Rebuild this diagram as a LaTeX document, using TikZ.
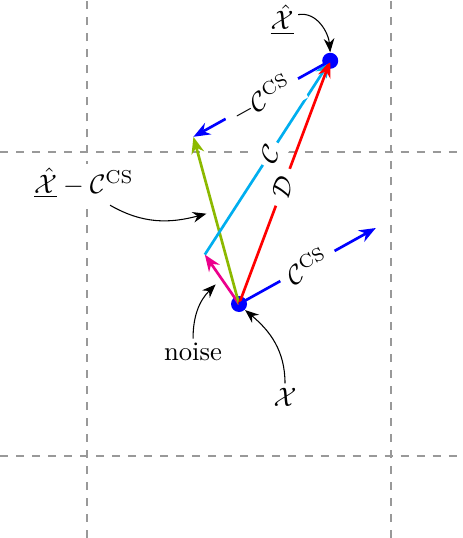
\documentclass[tikz,border=0pt]{standalone}
\usepackage{amsmath}
\usetikzlibrary{arrows.meta}
\definecolor{veccyan}{RGB}{0,174,239}
\definecolor{vecgreen}{RGB}{140,185,0}
\definecolor{vecpink}{RGB}{236,0,140}
\tikzset{
  gridln/.style ={dashed, gray!80, thin},
  vec/.style    ={-{Stealth[length=2.2mm, width=1.7mm]}, line width=1pt},
  dot/.style    ={circle, fill=blue, inner sep=0pt, minimum size=6pt},
  lbl/.style    ={fill=white, inner sep=1.5pt},
  onvec/.style  ={fill=white, text=black, sloped},
  annot/.style  ={-{Stealth[length=1.8mm, width=1.4mm]}, thin, black},
}

\begin{document}
\begin{tikzpicture}
  \useasboundingbox (-1.145,-1.079) rectangle (4.934,6.0);
  \draw[gridln, step=4cm] (-1.145,-1.079) grid (4.934,6.0);

  \coordinate (x)      at (2,2);
  \coordinate (xhat)   at (3.2,5.2);
  \coordinate (ccs)    at (3.8,3.0);
  \coordinate (diff)   at (1.4,4.2);
  \coordinate (noisy)  at (1.55,2.65);

  \node[dot] (xdot)    at (x) {};
  \node[dot] (xhatdot) at (xhat) {};

  % vectors
  \draw[vec, vecpink]  (x) -- (noisy) coordinate[pos=0.45] (pmid);
  \draw[vec, vecgreen] (x) -- (diff) coordinate[pos=0.54] (gmid);
  \draw[vec, veccyan]  (noisy) -- (xhat);
  \draw[vec, red]      (x) -- (xhat);
  \draw[vec, blue]     (x) -- (ccs);
  \draw[vec, blue]     (xhat) -- (diff);

  % labels on the vectors, on top of every line
  \path (x) -- node[onvec, pos=0.48] (lbld) {$\mathcal{D}$} (xhat);
  \path (noisy) -- node[onvec, pos=0.52, inner sep=2pt] (lblc) {$\mathcal{C}$} (xhat);
  \path (x) -- node[onvec] (lblccs) {$\mathcal{C}^{\mathrm{CS}}$} (ccs);
  \path (xhat) -- node[onvec] (lblmccs) {$-\mathcal{C}^{\mathrm{CS}}$} (diff);

  % annotations
  \node[lbl] (lblxhat)  at (2.566,5.737) {$\underline{\hat{\mathcal{X}}}$};
  \node[lbl] (lbldiff)  at (-0.04,3.59)  {$\underline{\hat{\mathcal{X}}} - \mathcal{C}^{\mathrm{CS}}$};
  \node[lbl] (lblnoise) at (1.395,1.368) {noise};
  \node[lbl] (lblx)     at (2.605,0.776) {$\mathcal{X}$};

  \draw[annot] ([yshift=2pt]lblxhat.east) to[out=10, in=95] (xhatdot.north);
  \draw[annot] (0.303,3.30) to[out=-30, in=195] ([xshift=-3pt]gmid);
  \draw[annot] (lblnoise.north) to[out=90, in=-135] ([xshift=-3pt,yshift=-1pt]pmid);
  \draw[annot] (lblx.north) to[out=90, in=-40] (xdot.south east);
\end{tikzpicture}
\end{document}
